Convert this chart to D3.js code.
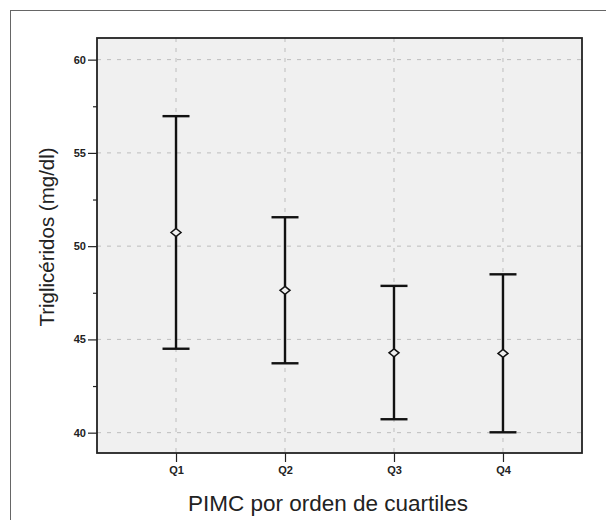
<!DOCTYPE html>
<html><head><meta charset="utf-8">
<script src="https://cdn.jsdelivr.net/npm/d3@7"></script>
<style>body{margin:0;background:#fff}svg{display:block}</style>
</head><body>
<script>
const categories = ["Q1","Q2","Q3","Q4"];
const means = [50.73, 47.63, 44.28, 44.25];
const lower = [44.5, 43.72, 40.72, 40.02];
const upper = [56.97, 51.55, 47.87, 48.49];
const yTicks = [40,45,50,55,60];
const yMinor = [42.5,47.5,52.5,57.5];

const W=606,H=520;
const m={l:97,t:38,r:582,b:453};
const svg=d3.select("body").append("svg").attr("width",W).attr("height",H);
svg.append("rect").attr("x",10.5).attr("y",10.5).attr("width",W).attr("height",H).attr("fill","none").attr("stroke","#666").attr("stroke-width",1);

const x=d3.scalePoint().domain(categories).range([m.l,m.r]).padding(0.725);
const y=d3.scaleLinear().domain([38.91,61.16]).range([m.b,m.t]);

svg.append("rect").attr("x",m.l).attr("y",m.t).attr("width",m.r-m.l).attr("height",m.b-m.t).attr("fill","#f0f0f0");

// grid
svg.append("g").selectAll("line").data(yTicks).join("line")
 .attr("x1",m.l).attr("x2",m.r).attr("y1",d=>y(d)).attr("y2",d=>y(d))
 .attr("stroke","#bdbdbd").attr("stroke-width",1).attr("stroke-dasharray","4,6");
svg.append("g").selectAll("line").data(categories).join("line")
 .attr("y1",m.t).attr("y2",m.b).attr("x1",d=>x(d)).attr("x2",d=>x(d))
 .attr("stroke","#bdbdbd").attr("stroke-width",1).attr("stroke-dasharray","4,6");

// axes
svg.append("g").attr("transform",`translate(${m.l},0)`)
 .call(d3.axisLeft(y).tickValues(yTicks).tickSize(9).tickPadding(2).tickFormat(d3.format("d")));
svg.append("g").attr("transform",`translate(${m.l},0)`)
 .call(d3.axisLeft(y).tickValues(yMinor).tickSize(4).tickFormat(""));
svg.append("g").attr("transform",`translate(0,${m.b})`)
 .call(d3.axisBottom(x).tickSize(9).tickPadding(4));
svg.selectAll(".domain").remove();
svg.selectAll(".tick line").attr("stroke","#222").attr("stroke-width",1.2);
svg.selectAll(".tick text").attr("font-family","Liberation Sans, Arial, sans-serif").attr("font-size",11).attr("font-weight","bold").attr("fill","#222");

svg.append("rect").attr("x",m.l).attr("y",m.t).attr("width",m.r-m.l).attr("height",m.b-m.t).attr("fill","none").attr("stroke","#222").attr("stroke-width",1.8);

// error bars
const g=svg.append("g").attr("stroke","#111").attr("stroke-width",2.4);
g.selectAll(".v").data(categories).join("line")
 .attr("x1",d=>x(d)).attr("x2",d=>x(d)).attr("y1",(d,i)=>y(lower[i])).attr("y2",(d,i)=>y(upper[i]));
g.selectAll(".cu").data(categories).join("line")
 .attr("x1",d=>x(d)-13.5).attr("x2",d=>x(d)+13.5).attr("y1",(d,i)=>y(upper[i])).attr("y2",(d,i)=>y(upper[i]));
g.selectAll(".cl").data(categories).join("line")
 .attr("x1",d=>x(d)-13.5).attr("x2",d=>x(d)+13.5).attr("y1",(d,i)=>y(lower[i])).attr("y2",(d,i)=>y(lower[i]));
svg.append("g").selectAll("path").data(categories).join("path")
 .attr("transform",(d,i)=>`translate(${x(d)},${y(means[i])})`)
 .attr("d","M0,-4L5,0L0,4L-5,0Z")
 .attr("fill","#f0f0f0").attr("stroke","#111").attr("stroke-width",1.5);

// labels
svg.append("text").attr("x",328).attr("y",511).attr("text-anchor","middle")
 .attr("font-family","Liberation Sans, Arial, sans-serif").attr("font-size",22.5).attr("fill","#222")
 .text("PIMC por orden de cuartiles");
svg.append("text").attr("transform","translate(54,237) rotate(-90)").attr("text-anchor","middle")
 .attr("font-family","Liberation Sans, Arial, sans-serif").attr("font-size",20.5).attr("fill","#222")
 .text("Triglicéridos (mg/dl)");
</script>
</body></html>
